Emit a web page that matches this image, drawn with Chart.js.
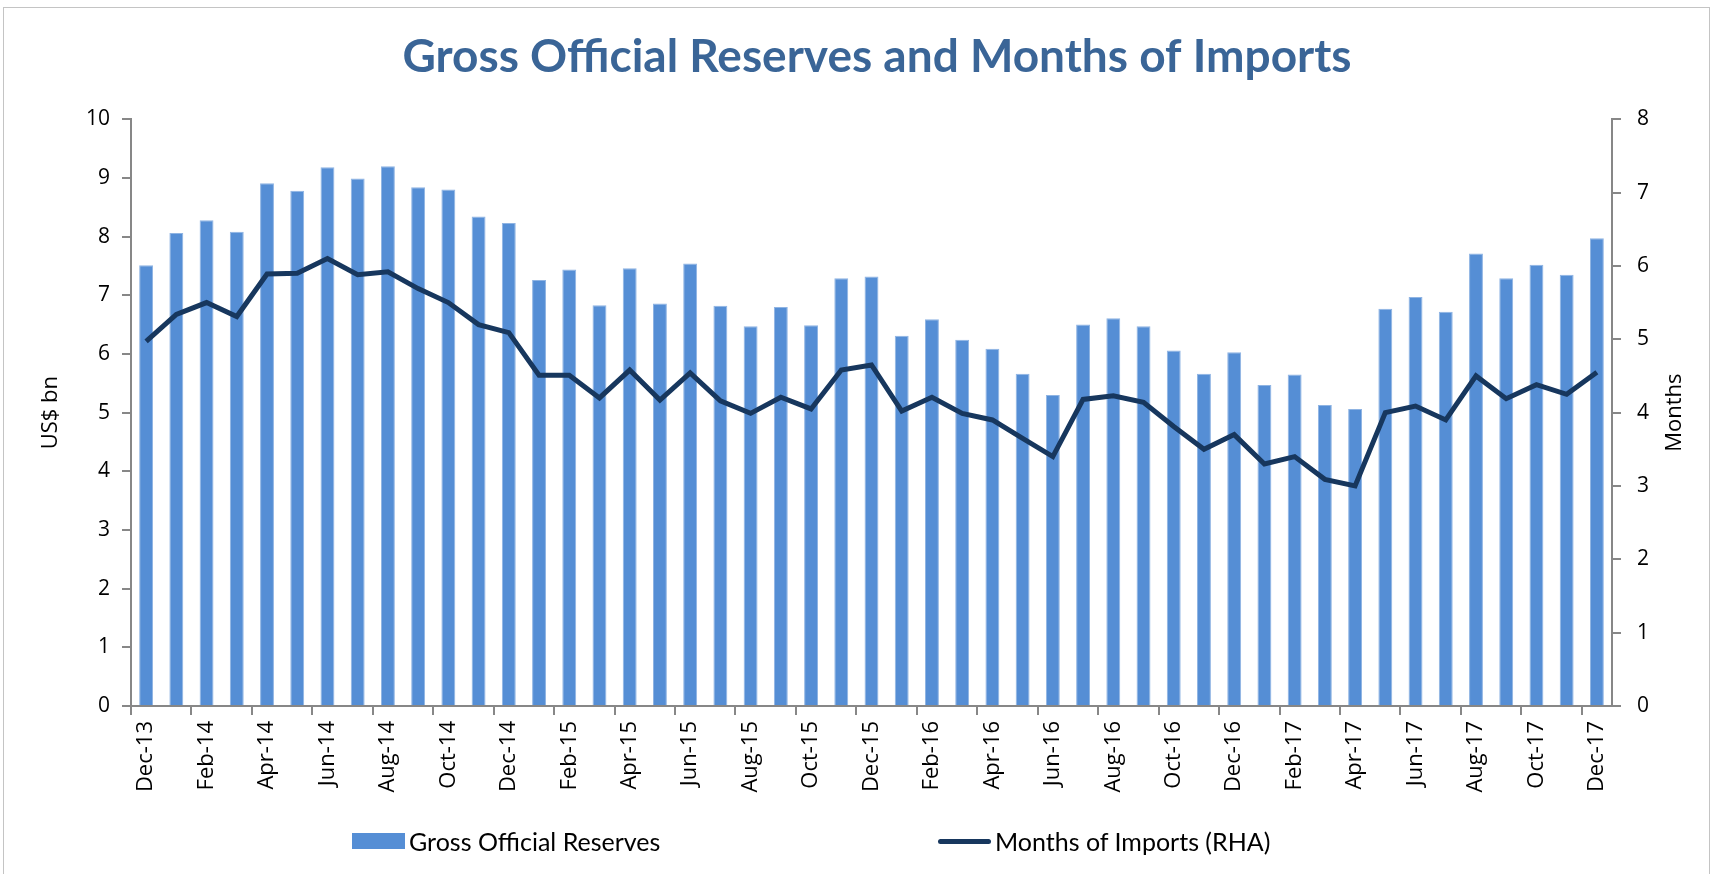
<!DOCTYPE html>
<html>
<head>
<meta charset="utf-8">
<script src="https://cdn.jsdelivr.net/npm/chart.js@4.4.1/dist/chart.umd.min.js"></script>
<style>
  html, body { margin: 0; padding: 0; background: #fff; }
  #wrap { position: relative; width: 1716px; height: 874px; }
  #frame { position: absolute; left: 3px; top: 7px; width: 1707px; height: 870px; border: 1px solid #c4c4c4; box-sizing: border-box; pointer-events: none; }
  #legend { position: absolute; top: 825px; left: 0; width: 1716px; height: 32px; font-family: Lato, "Open Sans", sans-serif; font-size: 25px; color: #000; }
  .item { position: absolute; top: 0; display: flex; align-items: center; height: 32px; }
  .swatch { width: 53px; margin-right: 4px; }
</style>
</head>
<body>
<div id="wrap">
  <canvas id="chart" width="1716" height="874"></canvas>
  <div id="frame"></div>
  <div id="legend"></div>
</div>
<script>
const categories = [
  'Dec-13', 'Jan-14', 'Feb-14', 'Mar-14', 'Apr-14', 'May-14', 'Jun-14', 'Jul-14', 'Aug-14', 'Sep-14', 'Oct-14', 'Nov-14', 'Dec-14',
  'Jan-15', 'Feb-15', 'Mar-15', 'Apr-15', 'May-15', 'Jun-15', 'Jul-15', 'Aug-15', 'Sep-15', 'Oct-15', 'Nov-15', 'Dec-15',
  'Jan-16', 'Feb-16', 'Mar-16', 'Apr-16', 'May-16', 'Jun-16', 'Jul-16', 'Aug-16', 'Sep-16', 'Oct-16', 'Nov-16', 'Dec-16',
  'Jan-17', 'Feb-17', 'Mar-17', 'Apr-17', 'May-17', 'Jun-17', 'Jul-17', 'Aug-17', 'Sep-17', 'Oct-17', 'Nov-17', 'Dec-17'
];

// US$ bn (left axis)
const reserves = [
  7.51, 8.06, 8.28, 8.08, 8.91, 8.78, 9.18, 8.99, 9.20, 8.84, 8.80, 8.34, 8.23,
  7.26, 7.44, 6.83, 7.46, 6.86, 7.54, 6.82, 6.47, 6.80, 6.49, 7.29, 7.32,
  6.31, 6.59, 6.24, 6.09, 5.66, 5.30, 6.50, 6.61, 6.47, 6.06, 5.66, 6.03,
  5.47, 5.65, 5.13, 5.06, 6.77, 6.97, 6.72, 7.71, 7.29, 7.52, 7.35, 7.97
];

// months of imports (right axis)
const monthsOfImports = [
  4.97, 5.34, 5.50, 5.31, 5.89, 5.90, 6.10, 5.88, 5.92, 5.69, 5.50, 5.20, 5.09,
  4.51, 4.51, 4.20, 4.58, 4.17, 4.54, 4.16, 3.99, 4.21, 4.05, 4.58, 4.65,
  4.02, 4.21, 3.99, 3.90, 3.65, 3.40, 4.18, 4.23, 4.14, 3.81, 3.50, 3.70,
  3.30, 3.40, 3.09, 3.00, 4.00, 4.09, 3.90, 4.50, 4.19, 4.38, 4.25, 4.55
];

const leftTicks = { min: 0, max: 10, step: 1 };
const rightTicks = { min: 0, max: 8, step: 1 };

const axisGrey = '#878787';
const tickFont = { family: '"Open Sans", Lato, sans-serif', size: 21 };
const axisTitleFont = { family: '"Open Sans", Lato, sans-serif', size: 22 };

// right axis title reads bottom-to-top in the original
const rightTitle = {
  id: 'rightTitle',
  afterDraw(c) {
    const s = c.scales.yRight;
    const g = c.ctx;
    g.save();
    g.translate(s.left + 63, (s.top + s.bottom) / 2);
    g.rotate(-Math.PI / 2);
    g.font = `${axisTitleFont.size}px ${axisTitleFont.family}`;
    g.fillStyle = '#000';
    g.textAlign = 'center';
    g.textBaseline = 'middle';
    g.fillText('Months', 0, 0);
    g.restore();
  }
};

const ctx = document.getElementById('chart').getContext('2d');

const chart = new Chart(ctx, {
  data: {
    labels: categories,
    datasets: [
      {
        type: 'line',
        label: 'Months of Imports (RHA)',
        data: monthsOfImports,
        yAxisID: 'yRight',
        borderColor: '#17375e',
        backgroundColor: '#17375e',
        borderWidth: 5,
        pointRadius: 0,
        tension: 0,
        order: 0
      },
      {
        type: 'bar',
        label: 'Gross Official Reserves',
        data: reserves,
        yAxisID: 'yLeft',
        backgroundColor: '#558ed5',
        borderColor: '#8fb4e3',
        borderWidth: { top: 1, left: 1, right: 1, bottom: 0 },
        categoryPercentage: 1,
        barPercentage: 0.46,
        order: 1
      }
    ]
  },
  options: {
    responsive: false,
    animation: false,
    layout: { padding: { left: 38, right: 0, top: 0, bottom: 62 } },
    plugins: {
      legend: { display: false },
      tooltip: { enabled: false },
      title: {
        display: true,
        text: 'Gross Official Reserves and Months of Imports',
        color: '#3a6597',
        font: { family: 'Lato, "Open Sans", sans-serif', size: 46, weight: 'bold' },
        padding: { top: 30, bottom: 34 }
      }
    },
    scales: {
      x: {
        offset: true,
        grid: {
          offset: true,
          drawOnChartArea: false,
          drawTicks: true,
          tickLength: 9,
          lineWidth: 2,
          color: (c) => (c.index % 2 === 0 ? axisGrey : 'rgba(0,0,0,0)')
        },
        border: { color: axisGrey, width: 2 },
        ticks: {
          autoSkip: false,
          minRotation: 90,
          maxRotation: 90,
          padding: 6,
          color: '#000',
          font: { family: tickFont.family, size: 22 },
          callback: (v, i) => (i % 2 === 0 ? categories[i] : '')
        },
        afterFit: (s) => { s.height = 106; }
      },
      yLeft: {
        position: 'left',
        min: leftTicks.min,
        max: leftTicks.max,
        ticks: { stepSize: leftTicks.step, color: '#000', font: tickFont, padding: 12 },
        grid: { drawOnChartArea: false, tickLength: 9, lineWidth: 2, color: axisGrey },
        border: { color: axisGrey, width: 2 },
        title: { display: true, text: 'US$ bn', color: '#000', font: axisTitleFont, padding: { top: 0, bottom: 10 } },
        afterFit: (s) => { s.width = 93; }
      },
      yRight: {
        position: 'right',
        min: rightTicks.min,
        max: rightTicks.max,
        ticks: { stepSize: rightTicks.step, color: '#000', font: tickFont, padding: 16 },
        grid: { drawOnChartArea: false, tickLength: 9, lineWidth: 2, color: axisGrey },
        border: { color: axisGrey, width: 2 },
        afterFit: (s) => { s.width = 104; }
      }
    }
  },
  plugins: [rightTitle]
});

// legend as html, spread like the original
const legendEl = document.getElementById('legend');
const legendX = { 'Gross Official Reserves': 352, 'Months of Imports (RHA)': 938 };
chart.data.datasets.slice().reverse().forEach((ds) => {
  const item = document.createElement('div');
  item.className = 'item';
  item.style.left = legendX[ds.label] + 'px';
  const sw = document.createElement('span');
  sw.className = 'swatch';
  if (ds.type === 'bar') {
    sw.style.height = '16px';
    sw.style.background = ds.backgroundColor;
  } else {
    sw.style.height = '5px';
    sw.style.borderRadius = '3px';
    sw.style.background = ds.borderColor;
  }
  const txt = document.createElement('span');
  txt.textContent = ds.label;
  item.appendChild(sw);
  item.appendChild(txt);
  legendEl.appendChild(item);
});
</script>
</body>
</html>
